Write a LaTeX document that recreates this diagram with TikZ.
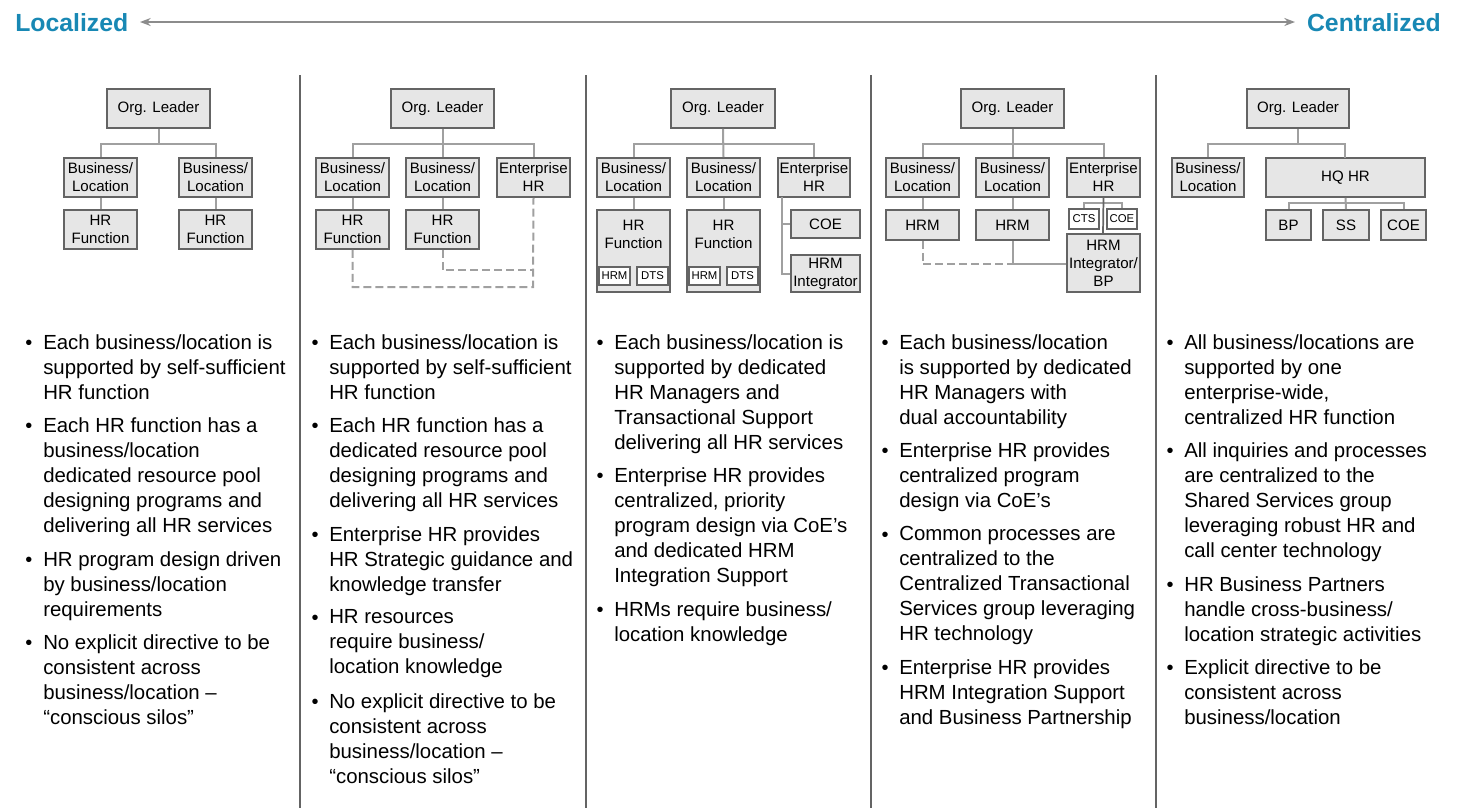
\documentclass[tikz,border=0pt]{standalone}
\usepackage{fontspec}
\setmainfont{Liberation Sans}
\usetikzlibrary{arrows.meta}
\definecolor{teal}{RGB}{24,136,180}
\definecolor{bfill}{RGB}{230,230,230}
\definecolor{bdraw}{RGB}{100,100,100}
\definecolor{cline}{RGB}{160,160,160}
\newcommand\bx[6]{\node[bx,minimum width={(#4-#2)*0.75pt},minimum height={(#5-#3)*0.75pt}] (#1) at ({(#2+#4)/2},{(#3+#5)/2}) {#6};}
\newcommand\sbx[6]{\node[sbx,minimum width={(#4-#2)*0.75pt},minimum height={(#5-#3)*0.75pt}] (#1) at ({(#2+#4)/2},{(#3+#5)/2}) {#6};}
\newcommand\bul[4]{\node[bdot] (#1d) at (#2+4,#3+11) {•};\node[btxt] (#1) at (#2+18,#3) {#4};}
\begin{document}
\begin{tikzpicture}[x=0.75pt,y=-0.75pt,
 bx/.style={draw=bdraw,fill=bfill,line width=1.4pt,inner sep=0pt,align=center,font=\fontsize{11.3}{13.5}\selectfont},
 sbx/.style={draw=bdraw,fill=white,line width=1.2pt,inner sep=0pt,align=center,font=\fontsize{8.5}{10}\selectfont},
 cn/.style={draw=cline,line width=1.5pt},
 dcn/.style={draw=cline,line width=1.5pt,dash pattern=on 6pt off 3pt},
 bdot/.style={anchor=center,inner sep=0pt,font=\fontsize{15}{18.75}\selectfont},
 btxt/.style={anchor=north west,inner sep=0pt,align=left,font=\fontsize{15.3}{18.75}\selectfont},
 hd/.style={font=\bfseries\fontsize{18.6}{20}\selectfont,text=teal,inner sep=0pt}]
\useasboundingbox (0,0) rectangle (1457,808);
\node[hd,anchor=west] (loc) at (15,23) {Localized};
\node[hd,anchor=east] (cen) at (1441,23) {Centralized};
\draw[draw=gray!90,line width=1.2pt,{Stealth[length=8pt,width=6pt]}-{Stealth[length=8pt,width=6pt]}] (140,22) coordinate (a1) -- (1295,22) coordinate (a2);
\foreach \x in {300,586,871,1156}{\draw[draw=bdraw,line width=1.3pt] (\x,75) -- (\x,808);}
% Panel 1
\bx{p1o}{107}{89}{210}{128}{Org. Leader}
\bx{p1b1}{64}{158}{137}{197}{Business/\\Location}
\bx{p1b2}{179}{158}{252}{197}{Business/\\Location}
\bx{p1h1}{64}{210}{137}{249}{HR\\Function}
\bx{p1h2}{179}{210}{252}{249}{HR\\Function}
\draw[cn] (p1o.south) -- ++(0,15) -| (p1b1.north);
\draw[cn] (p1o.south) -- ++(0,15) -| (p1b2.north);
\draw[cn] (p1b1) -- (p1h1); \draw[cn] (p1b2) -- (p1h2);
% Panel 2
\bx{p2o}{391}{89}{494}{128}{Org. Leader}
\bx{p2b1}{316}{158}{389}{197}{Business/\\Location}
\bx{p2b2}{406}{158}{479}{197}{Business/\\Location}
\bx{p2e}{497}{158}{570}{197}{Enterprise\\HR}
\bx{p2h1}{316}{210}{389}{249}{HR\\Function}
\bx{p2h2}{406}{210}{479}{249}{HR\\Function}
\draw[cn] (p2o.south) -- ++(0,15) -| (p2b1.north);
\draw[cn] (p2o.south) -- ++(0,15) -| (p2e.north);
\draw[cn] (p2o.south) -- (p2b2.north);
\draw[cn] (p2b1) -- (p2h1); \draw[cn] (p2b2) -- (p2h2);
\draw[dcn] (p2h1.south) |- (533,287) -- (p2e.south);
\draw[dcn] (p2h2.south) |- (533,270);
% Panel 3
\bx{p3o}{671}{89}{775}{128}{Org. Leader}
\bx{p3b1}{597}{158}{670}{197}{Business/\\Location}
\bx{p3b2}{687}{158}{760}{197}{Business/\\Location}
\bx{p3e}{778}{158}{850}{197}{Enterprise\\HR}
\node[bx,minimum width=54.75pt,minimum height=61.5pt] (p3h1) at (633.5,251) {};
\node[bx,minimum width=54.75pt,minimum height=61.5pt] (p3h2) at (723.5,251) {};
\node[font=\fontsize{11.3}{13.5}\selectfont,align=center,inner sep=0pt] (p3h1t) at (633.5,234) {HR\\Function};
\node[font=\fontsize{11.3}{13.5}\selectfont,align=center,inner sep=0pt] (p3h2t) at (723.5,234) {HR\\Function};
\sbx{p3m1}{599}{267}{630}{285}{HRM}
\sbx{p3d1}{637}{267}{668}{285}{DTS}
\sbx{p3m2}{689}{267}{720}{285}{HRM}
\sbx{p3d2}{727}{267}{758}{285}{DTS}
\bx{p3c}{791}{210}{860}{238}{COE}
\bx{p3i}{791}{255}{860}{292}{HRM\\Integrator}
\draw[cn] (p3o.south) -- ++(0,15) -| (p3b1.north);
\draw[cn] (p3o.south) -- ++(0,15) -| (p3e.north);
\draw[cn] (p3o.south) -- (p3b2.north);
\draw[cn] (p3b1) -- (p3h1); \draw[cn] (p3b2) -- (p3h2);
\draw[cn] (782,197) |- (p3i.west);
\draw[cn] (782,224) -- (p3c.west);
% Panel 4
\bx{p4o}{961}{89}{1064}{128}{Org. Leader}
\bx{p4b1}{886}{158}{959}{197}{Business/\\Location}
\bx{p4b2}{976}{158}{1049}{197}{Business/\\Location}
\bx{p4e}{1067}{158}{1140}{197}{Enterprise\\HR}
\bx{p4h1}{886}{210}{959}{240}{HRM}
\bx{p4h2}{976}{210}{1049}{240}{HRM}
\draw[cn] (p4o.south) -- ++(0,15) -| (p4b1.north);
\draw[cn] (p4o.south) -- ++(0,15) -| (p4e.north);
\draw[cn] (p4o.south) -- (p4b2.north);
\draw[cn] (p4b1) -- (p4h1); \draw[cn] (p4b2) -- (p4h2);
\draw[cn] (1084,209) |- (1122,203) -- (1122,209);
\draw[draw=bdraw,line width=1.3pt] (p4e.south) -- (1103,234);
\sbx{p4t}{1069}{209}{1099}{229}{CTS}
\sbx{p4c}{1107}{209}{1137}{229}{COE}
\bx{p4i}{1067}{234}{1140}{292}{HRM\\Integrator/\\BP}
\draw[dcn] (p4h1.south) |- (1012,264);
\draw[cn] (p4h2.south) |- (p4i.west |- 0,264);
% Panel 5
\bx{p5o}{1247}{89}{1349}{128}{Org. Leader}
\bx{p5b}{1172}{158}{1244}{197}{Business/\\Location}
\bx{p5q}{1266}{158}{1425}{197}{HQ HR}
\bx{p5bp}{1266}{210}{1311}{240}{BP}
\bx{p5ss}{1323}{210}{1369}{240}{SS}
\bx{p5c}{1381}{210}{1426}{240}{COE}
\draw[cn] (p5o.south) -- ++(0,15) -| (p5b.north);
\draw[cn] (p5o.south) -- ++(0,15) -| (1345,158);
\draw[cn] (p5q.south) -- (p5ss.north);
\draw[cn] (p5bp.north) |- (1346,203) -| (p5c.north);
% Bullets
\bul{a1b}{25}{334}{Each business/location is\\supported by self-sufficient\\HR function}
\bul{a2b}{25}{417}{Each HR function has a\\business/location\\dedicated resource pool\\designing programs and\\delivering all HR services}
\bul{a3b}{25}{551}{HR program design driven\\by business/location\\requirements}
\bul{a4b}{25}{634}{No explicit directive to be\\consistent across\\business/location –\\“conscious silos”}
\bul{b1b}{311}{334}{Each business/location is\\supported by self-sufficient\\HR function}
\bul{b2b}{311}{417}{Each HR function has a\\dedicated resource pool\\designing programs and\\delivering all HR services}
\bul{b3b}{311}{526}{Enterprise HR provides\\HR Strategic guidance and\\knowledge transfer}
\bul{b4b}{311}{609}{HR resources\\require business/\\location knowledge}
\bul{b5b}{311}{693}{No explicit directive to be\\consistent across\\business/location –\\“conscious silos”}
\bul{c1b}{596}{334}{Each business/location is\\supported by dedicated\\HR Managers and\\Transactional Support\\delivering all HR services}
\bul{c2b}{596}{467}{Enterprise HR provides\\centralized, priority\\program design via CoE’s\\and dedicated HRM\\Integration Support}
\bul{c3b}{596}{601}{HRMs require business/\\location knowledge}
\bul{d1b}{881}{334}{Each business/location\\is supported by dedicated\\HR Managers with\\dual accountability}
\bul{d2b}{881}{442}{Enterprise HR provides\\centralized program\\design via CoE’s}
\bul{d3b}{881}{526}{Common processes are\\centralized to the\\Centralized Transactional\\Services group leveraging\\HR technology}
\bul{d4b}{881}{659}{Enterprise HR provides\\HRM Integration Support\\and Business Partnership}
\bul{e1b}{1166}{334}{All business/locations are\\supported by one\\enterprise-wide,\\centralized HR function}
\bul{e2b}{1166}{442}{All inquiries and processes\\are centralized to the\\Shared Services group\\leveraging robust HR and\\call center technology}
\bul{e3b}{1166}{576}{HR Business Partners\\handle cross-business/\\location strategic activities}
\bul{e4b}{1166}{659}{Explicit directive to be\\consistent across\\business/location}
\end{tikzpicture}
\end{document}
